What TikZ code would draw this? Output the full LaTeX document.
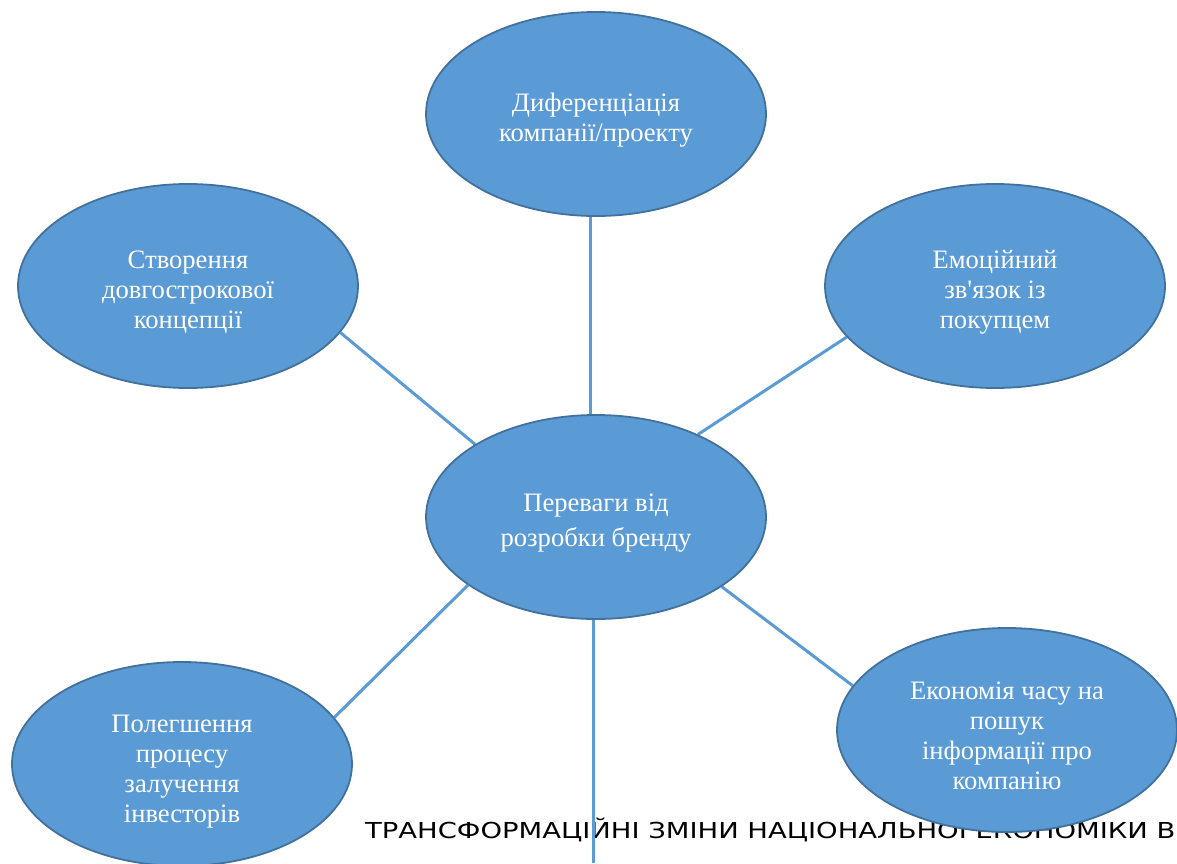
\documentclass[tikz,border=0pt]{standalone}
\usepackage{fontspec}
\setmainfont{Liberation Serif}
\newfontfamily\capfont{DejaVu Sans}
\usetikzlibrary{shapes.geometric,backgrounds}
\definecolor{bfill}{HTML}{5B9BD5}
\definecolor{bline}{HTML}{41719C}
\begin{document}
\begin{tikzpicture}[x=1pt,y=-1pt,
  bubble/.style={ellipse, draw=bline, line width=1.8pt, fill=bfill,
    minimum width=340pt, minimum height=204pt, inner sep=0pt},
  btext/.style={align=center, text=white, inner sep=0pt, yshift=-6pt,
    font=\fontsize{26.6}{30}\selectfont},
  link/.style={draw=bfill, line width=3pt},
  captext/.style={anchor=base west, inner sep=0pt, text=black,
    font=\capfont\fontsize{22}{26}\selectfont}]
\useasboundingbox (0,0) rectangle (1177,863);

\node[bubble, label={[btext]center:{Диференціація\\компанії/проекту}}] (top) at (596,114) {};
\node[bubble, label={[btext]center:{Створення\\довгострокової\\концепції}}] (ul) at (188,286) {};
\node[bubble, label={[btext]center:{Емоційний\\зв\textquotesingle язок із\\покупцем}}] (ur) at (995,286) {};
\node[bubble, label={[btext, font=\fontsize{26.6}{35}\selectfont]center:{Переваги від\\розробки бренду}}] (mid) at (596,517) {};
\node[bubble, label={[btext, yshift=-2pt]center:{Полегшення\\процесу\\залучення\\інвесторів}}] (bl) at (182,764) {};
\node[bubble, label={[btext]center:{Економія часу на\\пошук\\інформації про\\компанію}}] (br) at (1007,730) {};
\coordinate (bottomend) at (593,863);

\begin{scope}[on background layer]
  \node[captext] (cap) at (365,838) {\scalebox{1.246}[1]{ТРАНСФОРМАЦІЙНІ ЗМІНИ НАЦІОНАЛЬНОЇ ЕКОНОМІКИ В}};
  \draw[link] ([xshift=-6pt]top.south) -- ([xshift=-6pt]mid.north);
  \draw[link] (ul.-17) -- (mid.149);
  \draw[link] (ur.199) -- (mid.39);
  \draw[link] (mid.208) -- (bl.17);
  \draw[link] (mid.-29) -- (br.164);
  \draw[link] ([xshift=-3pt]mid.south) -- (bottomend);
\end{scope}
\end{tikzpicture}
\end{document}
